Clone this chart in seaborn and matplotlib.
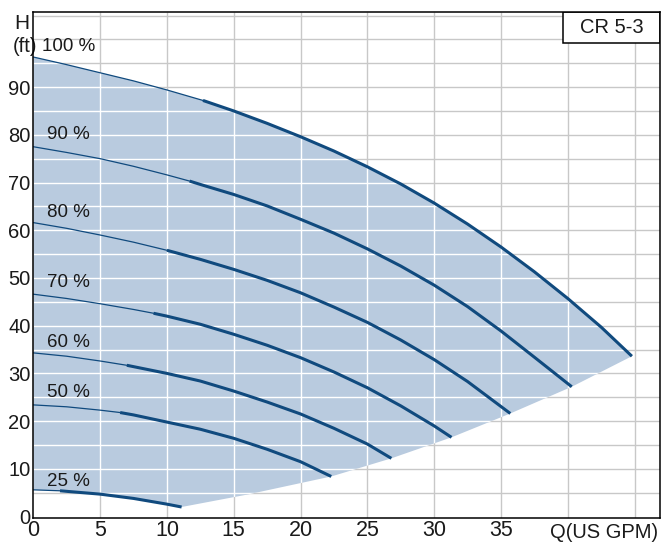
import matplotlib
matplotlib.use("Agg")
import matplotlib.pyplot as plt
import seaborn as sns
from matplotlib.patches import Rectangle

# Kennlinien CR 5-3 bei verschiedenen Drehzahlen (Q in US GPM, H in ft)
q100 = [0, 2.5, 5, 7.5, 10, 12.7, 15, 17.5, 20, 22.5, 25, 27.5, 30, 32.5, 35, 37.5, 40, 42.5, 44.8]
h100 = [96.3, 94.7, 93.0, 91.3, 89.4, 87.2, 85.0, 82.4, 79.6, 76.6, 73.3, 69.7, 65.7, 61.3, 56.5, 51.3, 45.7, 39.7, 33.6]

q90 = [0, 2.5, 5, 7.5, 10, 11.7, 12.5, 15, 17.5, 20, 22.5, 25, 27.5, 30, 32.5, 35, 37.5, 40.3]
h90 = [77.5, 76.3, 75.0, 73.4, 71.6, 70.3, 69.6, 67.5, 65.1, 62.3, 59.4, 56.1, 52.5, 48.5, 44.0, 38.9, 33.4, 27.2]

q80 = [0, 2.5, 5, 7.5, 10, 12.5, 15, 17.5, 20, 22.5, 25, 27.5, 30, 32.5, 35.7]
h80 = [61.6, 60.4, 59.0, 57.5, 55.8, 53.9, 51.8, 49.5, 46.9, 43.9, 40.7, 37.0, 32.9, 28.3, 21.6]

q70 = [0, 2.5, 5, 7.5, 9, 10, 12.5, 15, 17.5, 20, 22.5, 25, 27.5, 30, 31.3]
h70 = [46.6, 45.7, 44.6, 43.4, 42.6, 42.0, 40.3, 38.2, 35.9, 33.3, 30.3, 27.0, 23.2, 19.0, 16.6]

q60 = [0, 2.5, 5, 7, 10, 12.5, 15, 17.5, 20, 22.5, 25, 26.8]
h60 = [34.3, 33.6, 32.6, 31.7, 30.0, 28.4, 26.3, 24.0, 21.5, 18.5, 15.2, 12.2]

q50 = [0, 2.5, 5, 6.5, 7.5, 10, 12.5, 15, 17.5, 20, 22.3]
h50 = [23.4, 23.0, 22.3, 21.8, 21.3, 19.8, 18.3, 16.4, 14.1, 11.5, 8.4]

q25 = [0, 2, 5, 7.5, 10, 11.1]
h25 = [5.6, 5.4, 4.7, 3.8, 2.6, 2.0]

# ab diesem Q wird die Linie dick gezeichnet
thick_from = [12.7, 11.7, 10, 9, 7, 6.5, 2]
speed_labels = ["100 %", "90 %", "80 %", "70 %", "60 %", "50 %", "25 %"]
label_q = [0.63, 1.0, 1.0, 1.0, 1.0, 1.0, 1.0]
label_h = [98.5, 80.0, 63.8, 49.0, 36.4, 26.1, 7.4]

# untere Grenze des Arbeitsbereichs (Endpunkte der Kurven)
q_low = [44.8, 40.3, 35.7, 31.3, 26.8, 22.3, 16, 11.1]
h_low = [33.6, 27.2, 21.6, 16.6, 12.2, 8.4, 4.6, 2.0]

x_ticks = [0, 5, 10, 15, 20, 25, 30, 35]
y_ticks = [0, 10, 20, 30, 40, 50, 60, 70, 80, 90]
x_grid = [5, 10, 15, 20, 25, 30, 35, 40, 45]
y_grid = [5, 10, 15, 20, 25, 30, 35, 40, 45, 50, 55, 60, 65, 70, 75, 80, 85, 90, 95, 100, 105]

curves = [(q100, h100), (q90, h90), (q80, h80), (q70, h70),
          (q60, h60), (q50, h50), (q25, h25)]

sns.set_style("white")
plt.rcParams['font.family'] = ['Liberation Sans', 'DejaVu Sans']

line_col = "#104a7e"
fill_col = "#b9cbdf"
grid_col = "#c8c8c8"
txt_col = "#1a1a1a"

fig = plt.figure(figsize=(6.63, 5.46), dpi=100)
ax = fig.add_axes([0.0502, 0.0513, 0.9452, 0.9273])
ax.set_xlim(0, 46.9)
ax.set_ylim(-0.3, 105.8)

# graues Gitter
ax.vlines(x_grid, -0.3, 105.8, colors=grid_col, lw=1.0, zorder=1)
ax.hlines(y_grid, 0, 46.9, colors=grid_col, lw=1.0, zorder=1)

# Arbeitsbereich
poly_x = q100 + q_low + q25[::-1]
poly_y = h100 + h_low + h25[::-1]
patch = ax.fill(poly_x, poly_y, color=fill_col, lw=0, zorder=2)[0]

# weisses Gitter innerhalb des Bereichs
vl = ax.vlines(x_grid, -0.3, 105.8, colors="white", lw=1.0, zorder=3)
hl = ax.hlines(y_grid, 0, 46.9, colors="white", lw=1.0, zorder=3)
vl.set_clip_path(patch)
hl.set_clip_path(patch)

for (q, h), qs in zip(curves, thick_from):
    i = q.index(qs)
    sns.lineplot(x=q[:i + 1], y=h[:i + 1], ax=ax, color=line_col, lw=0.9,
                 sort=False, estimator=None, zorder=4)
    sns.lineplot(x=q[i:], y=h[i:], ax=ax, color=line_col, lw=2.2,
                 sort=False, estimator=None, zorder=4,
                 solid_capstyle="butt")

for lab, lq, lh in zip(speed_labels, label_q, label_h):
    ax.text(lq, lh, lab, fontsize=13.5, ha="left", va="center",
            color=txt_col, zorder=5)

ax.set_xticks(x_ticks)
ax.set_xticklabels([str(v) for v in x_ticks], fontsize=15.5)
ax.set_yticks(y_ticks)
ax.set_yticklabels([str(v) for v in y_ticks], fontsize=14.5)
ax.tick_params(length=0, pad=2, colors=txt_col)
ax.tick_params(axis="x", pad=1.5)

ax.text(42.75, -3.4, "Q(US GPM)", fontsize=14.5, ha="center", va="center",
        clip_on=False, color=txt_col)
ax.text(-0.87, 103.4, "H", fontsize=15, ha="center", va="center",
        clip_on=False, color=txt_col)
ax.text(0.3, 98.5, "(ft)", fontsize=14.5, ha="right", va="center",
        clip_on=False, color=txt_col)

# Typenfeld oben rechts
ax.add_patch(Rectangle((0.8457, 0.9376), 0.1543, 0.0624, transform=ax.transAxes,
                       facecolor="white", edgecolor="black", lw=1.1, zorder=6))
ax.text(0.9235, 0.9688, "CR 5-3", transform=ax.transAxes, fontsize=14.5,
        ha="center", va="center", zorder=7, color=txt_col)

for s in ax.spines.values():
    s.set_color("black")
    s.set_linewidth(1.1)
    s.set_zorder(8)

fig.savefig("out.png", dpi=100)
